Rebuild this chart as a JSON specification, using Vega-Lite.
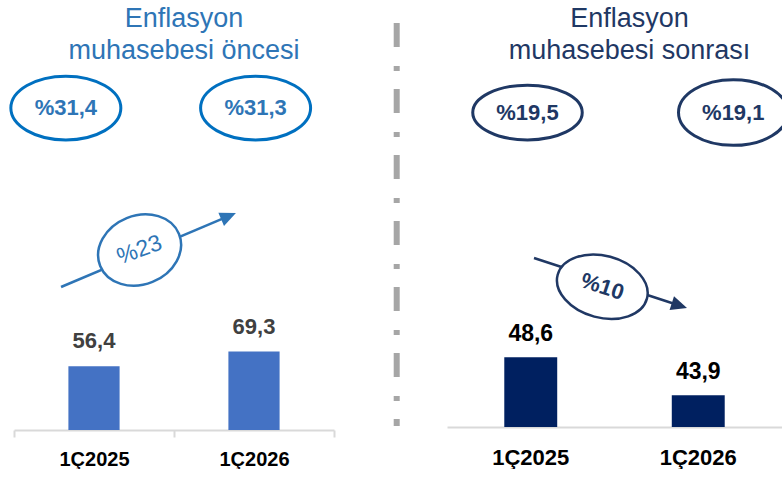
{
  "$schema": "https://vega.github.io/schema/vega-lite/v6.json",
  "padding": {"left": 4, "top": 5, "right": 0, "bottom": 0},
  "background": "white",
  "spacing": 50,
  "bounds": "flush",
  "config": {
    "view": {"stroke": null},
    "font": "Liberation Sans",
    "locale": {"number": {"decimal": ",", "thousands": ".", "grouping": [3], "currency": ["", " TL"]}}
  },
  "datasets": {
    "before": [{"period": "1Ç2025", "value": 56.4}, {"period": "1Ç2026", "value": 69.3}],
    "after": [{"period": "1Ç2025", "value": 48.6}, {"period": "1Ç2026", "value": 43.9}]
  },
  "hconcat": [
    {
      "width": 320,
      "height": 360,
      "title": {"text": ["Enflasyon", "muhasebesi öncesi"], "fontSize": 27, "font": "Liberation Sans", "fontWeight": "normal", "color": "#2E75B6", "lineHeight": 32, "offset": 5, "dx": 10, "anchor": "middle"},
      "resolve": {"scale": {"x": "independent"}},
      "layer": [
        {
          "data": {"name": "before"},
          "encoding": {
            "x": {"field": "period", "type": "nominal", "sort": null, "scale": {"paddingInner": 0, "paddingOuter": 0},
              "axis": {"title": null, "labelAngle": 0, "labelFont": "Liberation Sans", "labelFontSize": 20, "labelFontWeight": "bold", "labelColor": "#000000", "labelPadding": 12, "domainColor": "#D9D9D9", "domainWidth": 2, "ticks": true, "tickBand": "extent", "tickColor": "#D9D9D9", "tickWidth": 2, "tickSize": 7, "grid": false}},
            "y": {"field": "value", "type": "quantitative", "scale": {"domain": [0, 318], "nice": false}, "axis": null}
          },
          "layer": [
            {"mark": {"type": "bar", "color": "#4472C4", "width": {"band": 0.32}}},
            {"mark": {"type": "text", "dy": -18, "baseline": "alphabetic", "fontSize": 22, "fontWeight": "bold", "color": "#404040"},
              "encoding": {"text": {"field": "value", "type": "quantitative", "format": ".1f"}}}
          ]
        },
        {
          "layer": [
            {
              "data": {"values": [{"part": "arrow"}]},
              "mark": {"type": "rule", "color": "#2E75B6", "strokeWidth": 2.5, "strokeCap": "butt"},
              "encoding": {
                "x": {"datum": 0.294, "type": "quantitative", "scale": {"domain": [0, 2], "nice": false, "zero": false}, "axis": null},
                "y": {"datum": 126.3, "type": "quantitative", "axis": null},
                "x2": {"datum": 1.341},
                "y2": {"datum": 188.9}
              }
            },
            {
              "data": {"values": [{"part": "arrowhead"}]},
              "mark": {"type": "point", "shape": "M 1 0 L -1 -0.9 L -1 0.9 Z", "size": 256, "angle": -23, "filled": true, "color": "#2E75B6", "opacity": 1},
              "encoding": {
                "x": {"datum": 1.341, "type": "quantitative", "scale": {"domain": [0, 2], "nice": false, "zero": false}, "axis": null},
                "y": {"datum": 188.9, "type": "quantitative", "axis": null}
              }
            },
            {
              "data": {"values": [{"label": "%23"}]},
              "encoding": {
                "x": {"datum": 0.785, "type": "quantitative", "scale": {"domain": [0, 2], "nice": false, "zero": false}, "axis": null},
                "y": {"datum": 159.0, "type": "quantitative", "axis": null}
              },
              "layer": [
                {"mark": {"type": "point", "shape": "M -1 0 C -1 -0.4474 -0.5523 -0.81 0 -0.81 C 0.5523 -0.81 1 -0.4474 1 0 C 1 0.4474 0.5523 0.81 0 0.81 C -0.5523 0.81 -1 0.4474 -1 0 Z", "size": 7225, "angle": -22, "fill": "#FFFFFF", "stroke": "#2E75B6", "strokeWidth": 2.5, "opacity": 1, "fillOpacity": 1, "filled": true}},
                {"mark": {"type": "text", "angle": -20, "fontSize": 23, "color": "#2E75B6", "align": "center", "baseline": "middle"},
                  "encoding": {"text": {"field": "label", "type": "nominal"}}}
              ]
            },
            {
              "data": {"values": [{"label": "%31,4"}]},
              "encoding": {
                "x": {"datum": 0.324, "type": "quantitative", "scale": {"domain": [0, 2], "nice": false, "zero": false}, "axis": null},
                "y": {"datum": 284.4, "type": "quantitative", "axis": null}
              },
              "layer": [
                {"mark": {"type": "point", "shape": "M -1 0 C -1 -0.3203 -0.5523 -0.58 0 -0.58 C 0.5523 -0.58 1 -0.3203 1 0 C 1 0.3203 0.5523 0.58 0 0.58 C -0.5523 0.58 -1 0.3203 -1 0 Z", "size": 12100, "fill": "#FFFFFF", "stroke": "#0070C0", "strokeWidth": 3, "opacity": 1, "fillOpacity": 1, "filled": true}},
                {"mark": {"type": "text", "fontSize": 22, "fontWeight": "bold", "color": "#2E75B6", "align": "center", "baseline": "middle"},
                  "encoding": {"text": {"field": "label", "type": "nominal"}}}
              ]
            },
            {
              "data": {"values": [{"label": "%31,3"}]},
              "encoding": {
                "x": {"datum": 1.51, "type": "quantitative", "scale": {"domain": [0, 2], "nice": false, "zero": false}, "axis": null},
                "y": {"datum": 284.4, "type": "quantitative", "axis": null}
              },
              "layer": [
                {"mark": {"type": "point", "shape": "M -1 0 C -1 -0.3203 -0.5523 -0.58 0 -0.58 C 0.5523 -0.58 1 -0.3203 1 0 C 1 0.3203 0.5523 0.58 0 0.58 C -0.5523 0.58 -1 0.3203 -1 0 Z", "size": 12100, "fill": "#FFFFFF", "stroke": "#0070C0", "strokeWidth": 3, "opacity": 1, "fillOpacity": 1, "filled": true}},
                {"mark": {"type": "text", "fontSize": 22, "fontWeight": "bold", "color": "#2E75B6", "align": "center", "baseline": "middle"},
                  "encoding": {"text": {"field": "label", "type": "nominal"}}}
              ]
            }
          ]
        }
      ]
    },
    {
      "width": 13,
      "height": 360,
      "data": {"values": [{"part": "separator"}]},
      "mark": {"type": "rule", "color": "#A6A6A6", "strokeWidth": 6, "strokeDash": [24, 19, 5, 18], "strokeCap": "butt"},
      "encoding": {
        "x": {"datum": 0.977, "type": "quantitative", "scale": {"domain": [0, 1], "nice": false, "zero": false}, "axis": null},
        "y": {"datum": 407, "type": "quantitative", "scale": {"domain": [0, 360], "nice": false}, "axis": null},
        "y2": {"datum": 4}
      }
    },
    {
      "width": 335,
      "height": 357,
      "title": {"text": ["Enflasyon", "muhasebesi sonrası"], "fontSize": 27, "font": "Liberation Sans", "fontWeight": "normal", "color": "#1F3864", "lineHeight": 32, "offset": 5, "dx": 15, "anchor": "middle"},
      "resolve": {"scale": {"x": "independent"}},
      "layer": [
        {
          "data": {"name": "after"},
          "encoding": {
            "x": {"field": "period", "type": "nominal", "sort": null, "scale": {"paddingInner": 0, "paddingOuter": 0},
              "axis": {"title": null, "labelAngle": 0, "labelFont": "Liberation Sans", "labelFontSize": 22, "labelFontWeight": "bold", "labelColor": "#000000", "labelPadding": 20, "domainColor": "#D9D9D9", "domainWidth": 2, "ticks": false, "tickSize": 0, "grid": false}},
            "y": {"field": "value", "type": "quantitative", "scale": {"domain": [40, 84], "nice": false, "zero": false}, "axis": null}
          },
          "layer": [
            {"mark": {"type": "bar", "color": "#002060", "width": {"band": 0.316}}, "encoding": {"y2": {"datum": 40}}},
            {"mark": {"type": "text", "dy": -16, "baseline": "alphabetic", "fontSize": 23, "fontWeight": "bold", "color": "#000000"},
              "encoding": {"text": {"field": "value", "type": "quantitative", "format": ".1f"}}}
          ]
        },
        {
          "layer": [
            {
              "data": {"values": [{"part": "arrow"}]},
              "mark": {"type": "rule", "color": "#203864", "strokeWidth": 2.5, "strokeCap": "butt"},
              "encoding": {
                "x": {"datum": 0.5194, "type": "quantitative", "scale": {"domain": [0, 2], "nice": false, "zero": false}, "axis": null},
                "y": {"datum": 60.83, "type": "quantitative", "axis": null},
                "x2": {"datum": 1.3875},
                "y2": {"datum": 54.97}
              }
            },
            {
              "data": {"values": [{"part": "arrowhead"}]},
              "mark": {"type": "point", "shape": "M 1 0 L -1 -0.9 L -1 0.9 Z", "size": 256, "angle": 18, "filled": true, "color": "#203864", "opacity": 1},
              "encoding": {
                "x": {"datum": 1.3875, "type": "quantitative", "scale": {"domain": [0, 2], "nice": false, "zero": false}, "axis": null},
                "y": {"datum": 54.97, "type": "quantitative", "axis": null}
              }
            },
            {
              "data": {"values": [{"label": "%10"}]},
              "encoding": {
                "x": {"datum": 0.9272, "type": "quantitative", "scale": {"domain": [0, 2], "nice": false, "zero": false}, "axis": null},
                "y": {"datum": 57.29, "type": "quantitative", "axis": null}
              },
              "layer": [
                {"mark": {"type": "point", "shape": "M -1 0 C -1 -0.37 -0.5523 -0.67 0 -0.67 C 0.5523 -0.67 1 -0.37 1 0 C 1 0.37 0.5523 0.67 0 0.67 C -0.5523 0.67 -1 0.37 -1 0 Z", "size": 8538, "angle": 15, "fill": "#FFFFFF", "stroke": "#203864", "strokeWidth": 2.5, "opacity": 1, "fillOpacity": 1, "filled": true}},
                {"mark": {"type": "text", "angle": 18, "fontSize": 22, "fontWeight": "bold", "color": "#203864", "align": "center", "baseline": "middle"},
                  "encoding": {"text": {"field": "label", "type": "nominal"}}}
              ]
            },
            {
              "data": {"values": [{"label": "%19,5"}]},
              "encoding": {
                "x": {"datum": 0.4806, "type": "quantitative", "scale": {"domain": [0, 2], "nice": false, "zero": false}, "axis": null},
                "y": {"datum": 78.76, "type": "quantitative", "axis": null}
              },
              "layer": [
                {"mark": {"type": "point", "shape": "M -1 0 C -1 -0.2762 -0.5523 -0.5 0 -0.5 C 0.5523 -0.5 1 -0.2762 1 0 C 1 0.2762 0.5523 0.5 0 0.5 C -0.5523 0.5 -1 0.2762 -1 0 Z", "size": 11990, "fill": "#FFFFFF", "stroke": "#1F3864", "strokeWidth": 3, "opacity": 1, "fillOpacity": 1, "filled": true}},
                {"mark": {"type": "text", "fontSize": 22, "fontWeight": "bold", "color": "#1F3864", "align": "center", "baseline": "middle"},
                  "encoding": {"text": {"field": "label", "type": "nominal"}}}
              ]
            },
            {
              "data": {"values": [{"label": "%19,1"}]},
              "encoding": {
                "x": {"datum": 1.709, "type": "quantitative", "scale": {"domain": [0, 2], "nice": false, "zero": false}, "axis": null},
                "y": {"datum": 78.76, "type": "quantitative", "axis": null}
              },
              "layer": [
                {"mark": {"type": "point", "clip": true, "shape": "M -1 0 C -1 -0.3314 -0.5523 -0.6 0 -0.6 C 0.5523 -0.6 1 -0.3314 1 0 C 1 0.3314 0.5523 0.6 0 0.6 C -0.5523 0.6 -1 0.3314 -1 0 Z", "size": 11990, "fill": "#FFFFFF", "stroke": "#1F3864", "strokeWidth": 3, "opacity": 1, "fillOpacity": 1, "filled": true}},
                {"mark": {"type": "text", "fontSize": 22, "fontWeight": "bold", "color": "#1F3864", "align": "center", "baseline": "middle"},
                  "encoding": {"text": {"field": "label", "type": "nominal"}}}
              ]
            }
          ]
        }
      ]
    }
  ]
}
